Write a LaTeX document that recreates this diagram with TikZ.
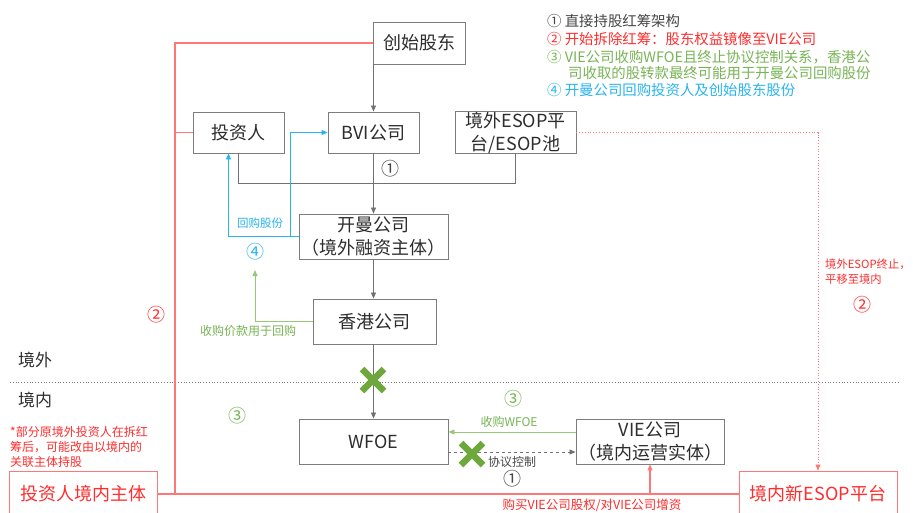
\documentclass[tikz,border=0pt]{standalone}
\usepackage{fontspec}
\setmainfont{Noto Sans CJK SC}
\usetikzlibrary{arrows.meta}
\definecolor{boxgray}{RGB}{125,125,125}
\definecolor{txtdark}{RGB}{45,45,45}
\definecolor{lnred}{RGB}{255,120,120}
\definecolor{txred}{RGB}{255,45,45}
\definecolor{lnblue}{RGB}{40,180,240}
\definecolor{lngreen}{RGB}{150,200,120}
\definecolor{txgreen}{RGB}{120,180,85}
\definecolor{xgreen}{RGB}{110,168,60}
\definecolor{legray}{RGB}{70,70,70}
\tikzset{
  box/.style={draw=boxgray, line width=0.9pt, inner sep=0pt, align=center,
    text=txtdark, font=\fontsize{18}{23}\selectfont},
  redbox/.style={draw=lnred, line width=0.9pt, inner sep=0pt, align=center,
    text=txred, font=\fontsize{18}{23}\selectfont},
  gline/.style={draw=boxgray!90!black, line width=0.8pt},
  bline/.style={draw=lnblue, line width=0.8pt},
  grline/.style={draw=lngreen, line width=0.8pt},
  rline/.style={draw=lnred, line width=1.2pt},
  rdot/.style={draw=lnred, line width=0.8pt, dotted},
  tip/.style={-{Triangle[length=6pt,width=5pt]}},
  circnum/.style={inner sep=0pt, font=\fontsize{18}{18}\selectfont},
  small/.style={inner sep=0pt, font=\fontsize{12}{14}\selectfont},
  legend/.style={inner sep=0pt, anchor=west, font=\fontsize{14.4}{16}\selectfont},
  xmark/.style={draw=xgreen, line width=6.5pt},
}
\begin{document}
\begin{tikzpicture}[x=1pt,y=-1pt]
\useasboundingbox (0,0) rectangle (913,512);
\fill[white] (0,0) rectangle (913,512);

% boxes
\node[box, minimum width=92, minimum height=42] (cs) at (419,43) {创始股东};
\node[box, minimum width=91, minimum height=41] (tzr) at (238.5,132.5) {投资人};
\node[box, minimum width=91, minimum height=41] (bvi) at (373.5,132.5) {BVI公司};
\node[box, minimum width=121, minimum height=41] (esop) at (515.5,132.5) {境外ESOP平\\台/ESOP池};
\node[box, minimum width=149, minimum height=45] (km) at (373.5,236.5) {开曼公司\\（境外融资主体）};
\node[box, minimum width=123, minimum height=45] (hk) at (374.5,321.5) {香港公司};
\node[box, minimum width=149, minimum height=45] (wfoe) at (373.5,441.5) {WFOE};
\node[box, minimum width=148, minimum height=45] (vie) at (650,441.5) {VIE公司\\（境内运营实体）};
\node[redbox, minimum width=148, minimum height=46] (tzn) at (83,494) {投资人境内主体};
\node[redbox, minimum width=158, minimum height=46] (nesop) at (818,494) {境内新ESOP平台};

% helper coordinates
\coordinate (jy) at (0,183);
\coordinate (b2) at (290,236.5);
\coordinate (gtop) at (255,270);
\coordinate (rc) at (175,493);

% boundary line
\draw[boxgray, dotted, line width=0.8pt] (10,382) -- (900,382);
\node[inner sep=0pt, text=txtdark, font=\fontsize{17}{17}\selectfont] (lw) at (35,360) {境外};
\node[inner sep=0pt, text=txtdark, font=\fontsize{17}{17}\selectfont] (ln) at (35,400) {境内};

% red connectors
\draw[rline] (cs.west) -| (rc);
\draw[rline] (tzr.west) -- (tzr.west -| rc);
\draw[rline] (tzn.east) -- (nesop.west);
\draw[rline, tip] (vie.south |- tzn.east) -- (vie.south);
\draw[rdot, tip] (esop.east) -| (nesop.north);

% black structure
\draw[gline, tip] (bvi.north |- cs.south) -- (bvi.north);
\draw[gline] (tzr.south) -- (tzr.south |- jy) -| (esop.south);
\draw[gline, tip] (bvi.south) -- (km.north);
\draw[gline, tip] (km.south) -- (km.south |- hk.north);
\draw[gline, tip] (hk.south -| wfoe.north) -- (wfoe.north);
\draw[gline, dashed, tip] ([yshift=-10.5pt]wfoe.east) -- ([yshift=-10.5pt]vie.west);

% blue
\draw[bline, tip] (km.west) -| ([xshift=-10pt]tzr.south);
\draw[bline, tip] (b2) |- (bvi.west);

% green
\draw[grline, tip] (hk.west) -| (gtop);
\draw[grline, tip] ([yshift=9.5pt]vie.west) -- ([yshift=9.5pt]wfoe.east);

% crosses
\draw[xmark] (362,369) -- (384,391); \draw[xmark] (362,391) -- (384,369);
\draw[xmark] (461,443) -- (483,465); \draw[xmark] (461,465) -- (483,443);

% labels
\node[circnum, text=legray] (c1a) at (390,169) {①};
\node[small, text=lnblue, font=\fontsize{11.5}{13}\selectfont] (lhg) at (260,223) {回购股份};
\node[circnum, text=lnblue] (c4) at (255,252) {④};
\node[small, text=txgreen] (lsg) at (248,331) {收购价款用于回购};
\node[circnum, text=txgreen] (c3a) at (237,416) {③};
\node[circnum, text=txgreen] (c3b) at (513,399) {③};
\node[small, text=txgreen] (lsw) at (509,422) {收购WFOE};
\node[small, text=legray] (lxy) at (512,462) {协议控制};
\node[circnum, text=legray] (c1b) at (512,479) {①};
\node[small, text=txred, font=\fontsize{12.5}{14}\selectfont] (lgm) at (592,505) {购买VIE公司股权/对VIE公司增资};
\node[circnum, text=txred] (c2a) at (156,315) {②};
\node[small, text=txred, anchor=west, font=\fontsize{11.3}{13}\selectfont] (le1) at (825,264) {境外ESOP终止，};
\node[small, text=txred, anchor=west, font=\fontsize{11.3}{13}\selectfont] (le2) at (825,279) {平移至境内};
\node[circnum, text=txred] (c2b) at (862,305) {②};
\node[small, text=txred, anchor=west] (ln1) at (10,432) {*部分原境外投资人在拆红};
\node[small, text=txred, anchor=west] (ln2) at (10,447) {筹后，可能改由以境内的};
\node[small, text=txred, anchor=west] (ln3) at (10,462) {关联主体持股};

% legend
\node[legend, text=legray] (g1) at (547,21) {① 直接持股红筹架构};
\node[legend, text=txred] (g2) at (547,39) {② 开始拆除红筹：股东权益镜像至VIE公司};
\node[legend, text=txgreen] (g3) at (547,57) {③ VIE公司收购WFOE且终止协议控制关系，香港公};
\node[legend, text=txgreen] (g3b) at (568,73) {司收取的股转款最终可能用于开曼公司回购股份};
\node[legend, text=lnblue] (g4) at (547,90) {④ 开曼公司回购投资人及创始股东股份};
\end{tikzpicture}
\end{document}
